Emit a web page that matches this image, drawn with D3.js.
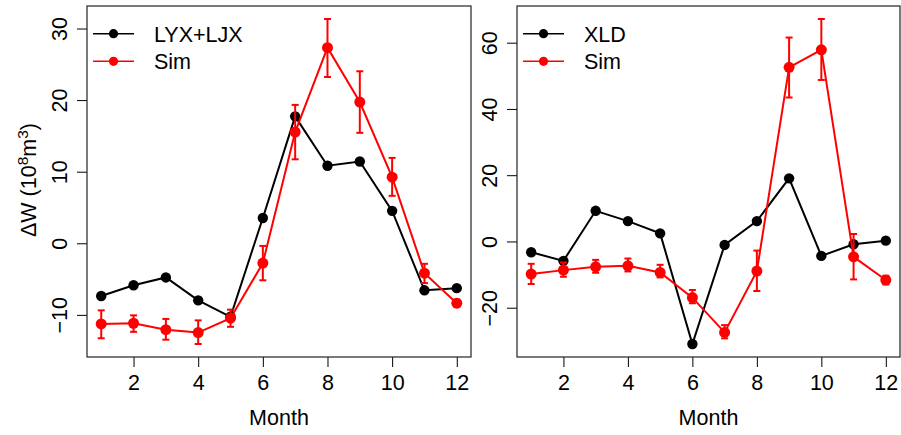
<!DOCTYPE html>
<html>
<head>
	<title>Monthly water storage change</title>
	<script src="https://d3js.org/d3.v7.min.js"></script>
	<style>
		body { margin: 0; background: #fff; }
		text { font-family: "Liberation Sans", Arial, sans-serif; }
	</style>
</head>
<body>
	<script type="text/javascript">
		// Months along the x axis
		var months = [1, 2, 3, 4, 5, 6, 7, 8, 9, 10, 11, 12];
		var xTicks = [2, 4, 6, 8, 10, 12];

		// Left panel: LYX+LJX observed vs simulated (with error bars)
		var lyxObs = [-7.3, -5.8, -4.7, -7.9, -10.2, 3.6, 17.8, 10.9, 11.5, 4.6, -6.5, -6.2];
		var lyxSim = [-11.2, -11.1, -12.0, -12.4, -10.4, -2.7, 15.6, 27.4, 19.8, 9.3, -4.1, -8.3];
		var lyxSimLo = [-13.2, -12.3, -13.4, -14.0, -11.6, -5.1, 11.8, 23.3, 15.5, 6.7, -5.5, -8.8];
		var lyxSimHi = [-9.3, -10.0, -10.5, -10.7, -9.2, -0.3, 19.4, 31.4, 24.1, 12.0, -2.8, -7.8];
		var lyxYTicks = [-10, 0, 10, 20, 30];

		// Right panel: XLD observed vs simulated (with error bars)
		var xldObs = [-3.1, -5.7, 9.4, 6.3, 2.6, -30.8, -0.9, 6.3, 19.2, -4.2, -0.7, 0.4];
		var xldSim = [-9.7, -8.5, -7.5, -7.2, -9.2, -16.8, -27.3, -8.8, 52.7, 58.0, -4.5, -11.5];
		var xldSimLo = [-12.7, -10.5, -9.3, -8.9, -10.7, -18.5, -29.1, -14.8, 43.6, 48.9, -11.3, -12.8];
		var xldSimHi = [-6.6, -6.2, -5.4, -5.0, -6.9, -14.5, -25.1, -2.6, 61.7, 67.3, 2.4, -10.2];
		var xldYTicks = [-20, 0, 20, 40, 60];

		var width = 901, height = 435;
		var fontSize = 21.5;

		var svg = d3.select("body")
					.append("svg")
					.attr("width", width)
					.attr("height", height);

		// R style axis range: data extent padded by 4% each side
		function rRange(vals) {
			var lo = d3.min(vals), hi = d3.max(vals);
			var pad = (hi - lo) * 0.04;
			return [lo - pad, hi + pad];
		}

		function drawPanel(p) {
			var g = svg.append("g");

			var x = d3.scaleLinear()
					  .domain(rRange(months))
					  .range([p.left, p.right]);
			var y = d3.scaleLinear()
					  .domain(rRange(p.obs.concat(p.lo, p.hi)))
					  .range([p.bottom, p.top]);

			// x axis
			var xAxis = d3.axisBottom(x)
						  .tickValues(xTicks)
						  .tickSize(10)
						  .tickPadding(8)
						  .tickSizeOuter(0);
			var xg = g.append("g")
					  .attr("transform", "translate(0," + p.bottom + ")")
					  .call(xAxis);
			xg.select(".domain").remove();
			xg.selectAll("line").attr("stroke", "#000");
			xg.selectAll("text")
			  .attr("fill", "#000")
			  .style("font-size", fontSize + "px")
			  .style("font-family", "'Liberation Sans', Arial, sans-serif");

			// y axis ticks (labels rotated like R's default)
			var yg = g.append("g");
			yg.selectAll("line")
			  .data(p.yTicks)
			  .enter()
			  .append("line")
			  .attr("x1", p.left)
			  .attr("x2", p.left - 10)
			  .attr("y1", function(d) { return y(d); })
			  .attr("y2", function(d) { return y(d); })
			  .attr("stroke", "#000");
			yg.selectAll("text")
			  .data(p.yTicks)
			  .enter()
			  .append("text")
			  .attr("x", p.left - 20)
			  .attr("y", function(d) { return y(d); })
			  .attr("transform", function(d) { return "rotate(-90," + (p.left - 20) + "," + y(d) + ")"; })
			  .attr("text-anchor", "middle")
			  .style("font-size", fontSize + "px")
			  .text(function(d) { return d < 0 ? "\u2212" + Math.abs(d) : d; });

			// plot box
			g.append("rect")
			 .attr("x", p.left)
			 .attr("y", p.top)
			 .attr("width", p.right - p.left)
			 .attr("height", p.bottom - p.top)
			 .attr("fill", "none")
			 .attr("stroke", "#222")
			 .attr("stroke-width", 1.2);

			// x axis title
			g.append("text")
			 .attr("x", (p.left + p.right) / 2)
			 .attr("y", 425)
			 .attr("text-anchor", "middle")
			 .style("font-size", fontSize + "px")
			 .text("Month");

			var line = d3.line()
						 .x(function(d, i) { return x(months[i]); })
						 .y(function(d) { return y(d); });

			// observed series (black)
			g.append("path")
			 .datum(p.obs)
			 .attr("d", line)
			 .attr("fill", "none")
			 .attr("stroke", "#000")
			 .attr("stroke-width", 2);
			g.selectAll(".obs")
			 .data(p.obs)
			 .enter()
			 .append("circle")
			 .attr("class", "obs")
			 .attr("cx", function(d, i) { return x(months[i]); })
			 .attr("cy", function(d) { return y(d); })
			 .attr("r", 5.2)
			 .attr("fill", "#000");

			// simulated series (red) with error bars
			g.append("path")
			 .datum(p.sim)
			 .attr("d", line)
			 .attr("fill", "none")
			 .attr("stroke", "#ff0000")
			 .attr("stroke-width", 2);
			var eb = g.selectAll(".err")
					  .data(months)
					  .enter()
					  .append("g")
					  .attr("class", "err")
					  .attr("stroke", "#ff0000")
					  .attr("stroke-width", 2);
			eb.append("line")
			  .attr("x1", function(d) { return x(d); })
			  .attr("x2", function(d) { return x(d); })
			  .attr("y1", function(d, i) { return y(p.lo[i]); })
			  .attr("y2", function(d, i) { return y(p.hi[i]); });
			eb.append("line")
			  .attr("x1", function(d) { return x(d) - 3.5; })
			  .attr("x2", function(d) { return x(d) + 3.5; })
			  .attr("y1", function(d, i) { return y(p.lo[i]); })
			  .attr("y2", function(d, i) { return y(p.lo[i]); });
			eb.append("line")
			  .attr("x1", function(d) { return x(d) - 3.5; })
			  .attr("x2", function(d) { return x(d) + 3.5; })
			  .attr("y1", function(d, i) { return y(p.hi[i]); })
			  .attr("y2", function(d, i) { return y(p.hi[i]); });
			g.selectAll(".sim")
			 .data(p.sim)
			 .enter()
			 .append("circle")
			 .attr("class", "sim")
			 .attr("cx", function(d, i) { return x(months[i]); })
			 .attr("cy", function(d) { return y(d); })
			 .attr("r", 5.5)
			 .attr("fill", "#ff0000");

			// legend
			var legend = [{ name: p.obsName, color: "#000" }, { name: "Sim", color: "#ff0000" }];
			var lg = g.selectAll(".legend")
					  .data(legend)
					  .enter()
					  .append("g")
					  .attr("class", "legend")
					  .attr("transform", function(d, i) { return "translate(" + (p.left + 6) + "," + (p.top + 27.7 + i * 27.6) + ")"; });
			lg.append("line")
			  .attr("x1", 0)
			  .attr("x2", 41)
			  .attr("stroke", function(d) { return d.color; })
			  .attr("stroke-width", 1.6);
			lg.append("circle")
			  .attr("cx", 20.5)
			  .attr("r", 4.6)
			  .attr("fill", function(d) { return d.color; });
			lg.append("text")
			  .attr("x", 61)
			  .attr("y", 8)
			  .style("font-size", fontSize + "px")
			  .text(function(d) { return d.name; });

			return g;
		}

		drawPanel({ left: 87, right: 471, top: 6, bottom: 357,
					obs: lyxObs, sim: lyxSim, lo: lyxSimLo, hi: lyxSimHi,
					yTicks: lyxYTicks, obsName: "LYX+LJX" });
		drawPanel({ left: 517, right: 900, top: 6, bottom: 357,
					obs: xldObs, sim: xldSim, lo: xldSimLo, hi: xldSimHi,
					yTicks: xldYTicks, obsName: "XLD" });

		// y axis title on the left panel
		var yLab = svg.append("text")
					  .attr("transform", "translate(36,180) rotate(-90)")
					  .attr("text-anchor", "middle")
					  .style("font-size", fontSize + "px");
		yLab.append("tspan").text("\u0394W (10");
		yLab.append("tspan").attr("baseline-shift", "super").style("font-size", "15.5px").text("8");
		yLab.append("tspan").text("m");
		yLab.append("tspan").attr("baseline-shift", "super").style("font-size", "15.5px").text("3");
		yLab.append("tspan").text(")");
	</script>
</body>
</html>
